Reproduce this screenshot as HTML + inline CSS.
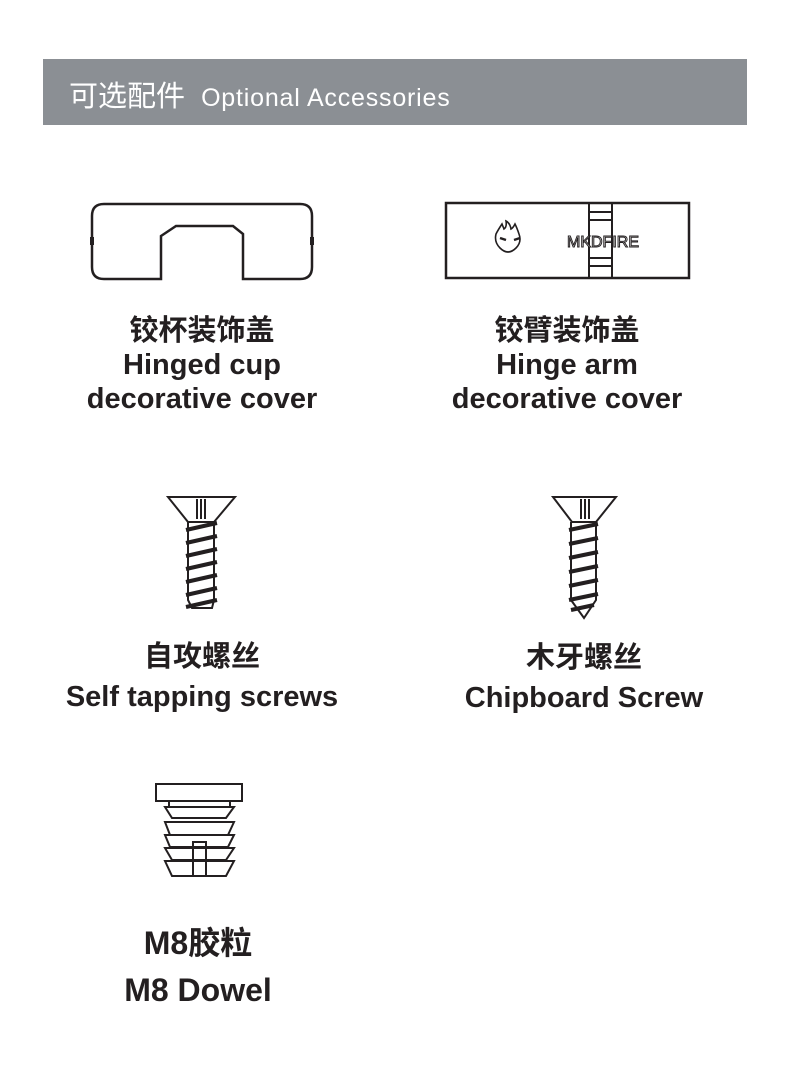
<!DOCTYPE html>
<html><head><meta charset="utf-8"><style>
body{margin:0;background:#fff;width:790px;height:1084px;position:relative;overflow:hidden;font-family:"Liberation Sans","Noto Sans CJK SC",sans-serif}
.hdr{position:absolute;left:43px;top:59px;width:704px;height:66px;background:#8b8f94;color:#fff}
.hdr span{position:absolute;left:26px;top:14px;font-size:29px;white-space:nowrap}
.hdr small{font-size:25px;margin-left:8px;letter-spacing:0.8px}
.t{position:absolute;text-align:center;font-weight:bold;color:#231f20;font-size:29px;line-height:34px;white-space:nowrap;transform:translateX(-50%)}
svg{position:absolute;left:0;top:0}
</style></head><body>
<div class="hdr"><span>可选配件 <small>Optional Accessories</small></span></div>
<svg width="790" height="1084" fill="none" stroke="#231f20" stroke-width="2.5">
<path d="M104 204 H300 Q312 204 312 216 V267 Q312 279 300 279 H243 V234 L233 226 H176 L161 236 V279 H104 Q92 279 92 267 V216 Q92 204 104 204 Z"/>
<path d="M92 237 v8 M312 237 v8" stroke-width="4"/>
<rect x="446" y="203" width="243" height="75"/>
<path d="M589 203 v75 M612 203 v75 M589 212 h23 M589 220 h23 M589 258 h23 M589 266 h23" stroke-width="2"/>
<path d="M502 224 q-4 6 -6 10 q-2 8 4 14 q8 8 16 0 q6-6 3-14 q-2 -6 -4 -10 q-2 4 -4 5 q-1 -6 -5 -8 q1 6 -2 8 z" stroke-width="1.6"/>
<path d="M500 238 l6 2 M514 240 l6 -2" stroke-width="2.5"/>
<text x="567" y="247" font-family="Liberation Sans" font-size="16" fill="#fff" stroke="#231f20" stroke-width="1">MKDFIRE</text>
<g stroke-width="2">
<path d="M168 497 H235 L214 522 H188 Z"/>
<path d="M197 499 v20 M201 499 v20 M205 499 v20"/>
<path d="M188 522 V600 L192 608 H212 L214 600 V522"/>
</g>
<g stroke-width="4">
<path d="M186 530 L217 523 M186 543 L217 536 M186 556 L217 549 M186 569 L217 562 M186 582 L217 575 M186 595 L217 588 M186 607 L217 600"/>
</g>
<g stroke-width="2">
<path d="M553 497 H616 L596 522 H572 Z"/>
<path d="M581 499 v20 M585 499 v20 M589 499 v20"/>
<path d="M571 522 V600 L584 618 L596 600 V522"/>
</g>
<g stroke-width="4">
<path d="M569 530 L598 524 M569 544 L598 538 M569 558 L598 552 M569 572 L598 566 M569 586 L598 580 M569 600 L598 594 M571 610 L594 605"/>
</g>
<g stroke-width="2">
<rect x="156" y="784" width="86" height="17"/>
<path d="M169 801 v6 h61 v-6"/>
<path d="M165 807 H234 L226 818 H172 Z"/>
<path d="M165 822 H234 L228 835 H170 Z"/>
<path d="M165 835 H234 L228 847 H170 Z"/>
<path d="M165 848 H234 L226 860 H172 Z"/>
<path d="M165 861 H234 L226 876 H172 Z"/>
<rect x="193" y="842" width="13" height="34"/>
</g>
</svg>
<div class="t" style="left:202px;top:314px">铰杯装饰盖<br>Hinged cup<br>decorative cover</div>
<div class="t" style="left:567px;top:314px">铰臂装饰盖<br>Hinge arm<br>decorative cover</div>
<div class="t" style="left:202px;top:637px;line-height:40px">自攻螺丝<br>Self tapping screws</div>
<div class="t" style="left:584px;top:638px;line-height:40px">木牙螺丝<br>Chipboard Screw</div>
<div class="t" style="left:198px;top:920px;line-height:47px;font-size:32px">M8胶粒<br>M8 Dowel</div>
</body></html>
